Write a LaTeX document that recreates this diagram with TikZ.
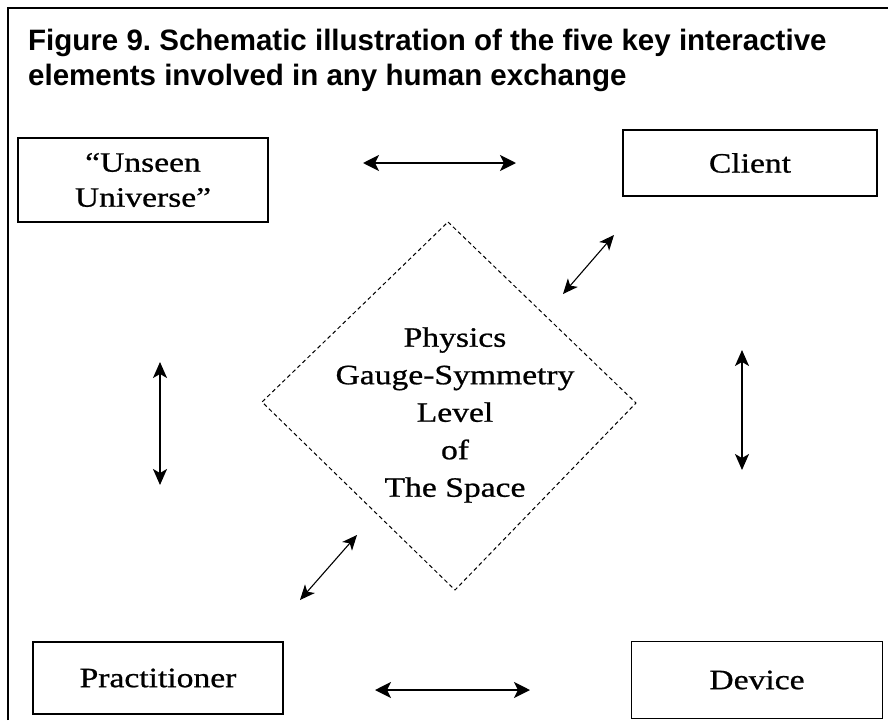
\documentclass[tikz,border=0pt]{standalone}
\usepackage{fontspec}
\setmainfont{Liberation Serif}
\newfontfamily\titlefont{Liberation Sans}
\newfontfamily\goudy[FakeStretch=1.2,FakeBold=0.8]{Liberation Serif}
\usetikzlibrary{arrows.meta}
\tikzset{
  box/.style={draw, line width=1.5pt, inner sep=0pt, align=center, font=\goudy\fontsize{28}{35}\selectfont},
  dia/.style={draw, dash pattern=on 4pt off 3pt, line width=1pt},
  harrow/.style={line width=2.2pt, {Stealth[length=16pt,width=16pt,inset=4pt]}-{Stealth[length=16pt,width=16pt,inset=4pt]}},
  varrow/.style={line width=1.6pt, {Stealth[length=16pt,width=14pt,inset=4pt]}-{Stealth[length=16pt,width=14pt,inset=4pt]}},
  darrow/.style={line width=1.1pt, {Stealth[length=15pt,width=13pt,inset=4pt]}-{Stealth[length=15pt,width=13pt,inset=4pt]}},
  ttl/.style={anchor=base west, inner sep=0pt, font=\titlefont\bfseries\fontsize{29.5}{35}\selectfont}
}
\begin{document}
\frenchspacing
\begin{tikzpicture}[x=1pt,y=-1pt]
\useasboundingbox (0,0) rectangle (888,720);
\draw[line width=2pt] (8,720) -- (8,8) -- (888,8);
\node[ttl] (t1) at (28,50) {Figure 9. Schematic illustration of the five key interactive};
\node[ttl] (t2) at (28,85) {elements involved in any human exchange};
% boxes
\node[box, minimum width=250pt, minimum height=84pt] (uu) at (143,180) {“Unseen\\Universe”};
\node[box, minimum width=254pt, minimum height=66pt] (cl) at (750,163) {Client};
\node[box, minimum width=250pt, minimum height=72pt] (pr) at (158,678) {Practitioner};
\node[box, minimum width=251pt, minimum height=77pt] (de) at (757,680) {Device};
% diamond
\coordinate (dt) at (448,222);
\coordinate (dl) at (262,402);
\coordinate (dr) at (636,403);
\coordinate (db) at (455,590);
\draw[dia] (dt) -- (dr) -- (db) -- (dl) -- cycle;
\node[align=center, font=\goudy\fontsize{28}{37.5}\selectfont, inner sep=0pt] (dx) at (455,415) {Physics\\Gauge-Symmetry\\Level\\of\\The Space};
% arrow endpoints
\coordinate (a1) at (363,163); \coordinate (a2) at (516,163);
\coordinate (b1) at (614,235); \coordinate (b2) at (563,294);
\coordinate (c1) at (160,362); \coordinate (c2) at (160,485);
\coordinate (d1) at (742,350); \coordinate (d2) at (742,470);
\coordinate (e1) at (357,535); \coordinate (e2) at (300,600);
\coordinate (f1) at (375,690); \coordinate (f2) at (530,690);
\draw[harrow] (a1) -- (a2);
\draw[darrow] (b1) -- (b2);
\draw[varrow] (c1) -- (c2);
\draw[varrow] (d1) -- (d2);
\draw[darrow] (e1) -- (e2);
\draw[harrow] (f1) -- (f2);
\end{tikzpicture}
\end{document}
